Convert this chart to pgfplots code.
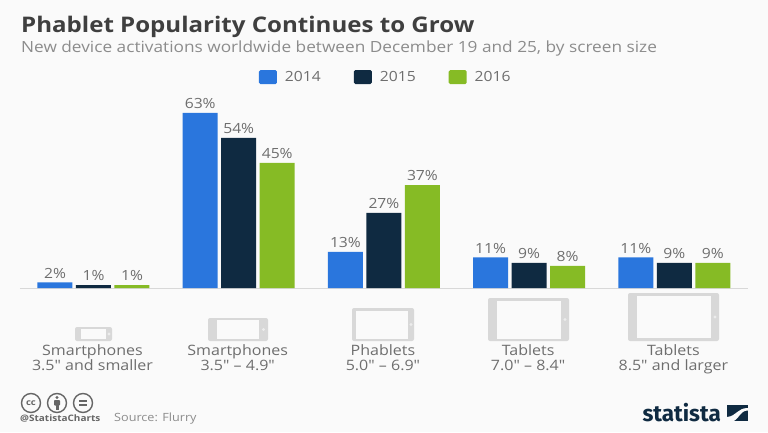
\documentclass[border=0pt]{standalone}
\usepackage{fontspec}
\setmainfont[FakeStretch=1.12,Ligatures=TeXOff]{Open Sans}
\newfontfamily\logofont{Fira Sans}
\usepackage{pgfplots}
\pgfplotsset{compat=1.18}
\definecolor{bg}{HTML}{FAFAFA}
\definecolor{c2014}{HTML}{2A76DD}
\definecolor{c2015}{HTML}{0F2A41}
\definecolor{c2016}{HTML}{86BB25}
\definecolor{titlec}{HTML}{3F3F3F}
\definecolor{subc}{HTML}{8C8C8C}
\definecolor{labelc}{HTML}{6E6E6E}
\definecolor{iconc}{HTML}{D8D8D8}
\definecolor{ccc}{HTML}{666666}
\pgfplotsset{
  swatch/.style={legend image code/.code={
    \fill[#1,rounded corners=1.5pt] (0pt,-7pt) rectangle (18pt,7pt);}},
}
\newcommand{\device}[8]{% outer x0 y0 x1 y1, screen x0 y0 x1 y1
  \fill[iconc,rounded corners=2pt] (#1,#2) rectangle (#3,#4);
  \fill[bg] (#5,#6) rectangle (#7,#8);
  \fill[bg!60!iconc] ({(#3+#7)/2},{(#2+#4)/2}) circle (1.6);
}
\begin{document}
\begin{tikzpicture}[x=1pt,y=1pt]
\path[fill=bg,use as bounding box] (0,0) rectangle (768,432);
\begin{axis}[
    at={(20pt,144pt)}, anchor=south west,
    scale only axis,
    width=728pt, height=194.6pt,
    xmin=-0.506, xmax=4.507,
    ymin=0, ymax=70,
    ybar=3.5pt, bar width=35pt,
    axis y line=none,
    axis x line*=bottom,
    axis line style={draw=iconc,line width=0.8pt},
    xtick=data,
    xticklabels={{Smartphones\\3.5" and smaller},{Smartphones\\3.5" – 4.9"},{Phablets\\5.0" – 6.9"},{Tablets\\7.0" – 8.4"},{Tablets\\8.5" and larger}},
    xticklabel style={align=center,text=labelc,font=\fontsize{14.3}{15.5}\selectfont,inner sep=0pt,yshift=-56pt,xshift=-1pt},
    major tick length=0pt,
    /pgf/number format/assume math mode=true,
    nodes near coords={\pgfmathprintnumber{\pgfplotspointmeta}\%},
    every node near coord/.append style={text=labelc,font=\fontsize{14}{16}\selectfont,inner sep=0pt,yshift=4pt},
    legend style={at={(0.328,1.084)},anchor=west,draw=none,fill=none,legend columns=3,
      font=\fontsize{14}{16}\selectfont,text=labelc,inner sep=0pt,
      cells={anchor=west},
      /tikz/every odd column/.append style={column sep=6pt},
      /tikz/every even column/.append style={column sep=31pt}},
    clip=false,
]
\addplot[fill=c2014,draw=none,swatch=c2014] coordinates {(0,2) (1,63) (2,13) (3,11) (4,11)};
\addplot[fill=c2015,draw=none,swatch=c2015] coordinates {(0,1) (1,54) (2,27) (3,9) (4,9)};
\addplot[fill=c2016,draw=none,swatch=c2016] coordinates {(0,1) (1,45) (2,37) (3,8) (4,9)};
\legend{2014,2015,2016}
\end{axis}
\begin{scope}[shift={(0,432)},y=-1pt]
\node[anchor=base west,inner sep=0pt,text=titlec,font=\fontsize{21.5}{24}\selectfont\bfseries] at (21,33) {Phablet Popularity Continues to Grow};
\node[anchor=base west,inner sep=0pt,text=subc,font=\fontsize{15.4}{17}\selectfont] at (21,53) {New device activations worldwide between December 19 and 25, by screen size};
% device icons
\device{75}{327}{112}{341}{81}{329}{106}{339}
\device{208}{318}{268}{341}{217}{320}{259}{339}
\device{352}{308}{414}{341}{356}{311}{408}{339}
\device{488}{298}{569}{341}{497}{301}{561}{339}
\device{628}{293}{719}{341}{637}{296}{711}{338}
% cc badges
\foreach \x in {31,57,83}{
  \draw[ccc,line width=1.4pt] (\x,403) circle (9.5);
}
\node[text=ccc,inner sep=0pt,font=\fontsize{8.5}{9}\selectfont\bfseries] at (31,403) {cc};
\fill[ccc] (57,397.5) circle (1.6);
\fill[ccc,rounded corners=0.8pt] (54,400) rectangle (60,405.5);
\fill[ccc] (55.5,405) rectangle (58.5,410);
\fill[ccc] (79,400) rectangle (87,401.8);
\fill[ccc] (79,404.3) rectangle (87,406.1);
\node[anchor=base west,inner sep=0pt,text=ccc,font=\fontsize{8.9}{9}\selectfont\bfseries] at (20,421) {@StatistaCharts};
\node[anchor=base west,inner sep=0pt,text=subc,font=\fontsize{11.3}{12}\selectfont] at (114,421.5) {Source: Flurry};
% logo
\node[anchor=base east,inner sep=0pt,text=c2015,font=\logofont\fontsize{22.5}{24}\selectfont\bfseries] at (721,421) {statista};
\fill[c2015] (727,405) rectangle (748,421);
\fill[bg] (727,421.5) -- (727,417) .. controls (737,416) and (737,408) .. (748,408) -- (748,410.5) .. controls (740,410.5) and (740,418) .. (733,421.5) -- cycle;
\end{scope}
\end{tikzpicture}
\end{document}
